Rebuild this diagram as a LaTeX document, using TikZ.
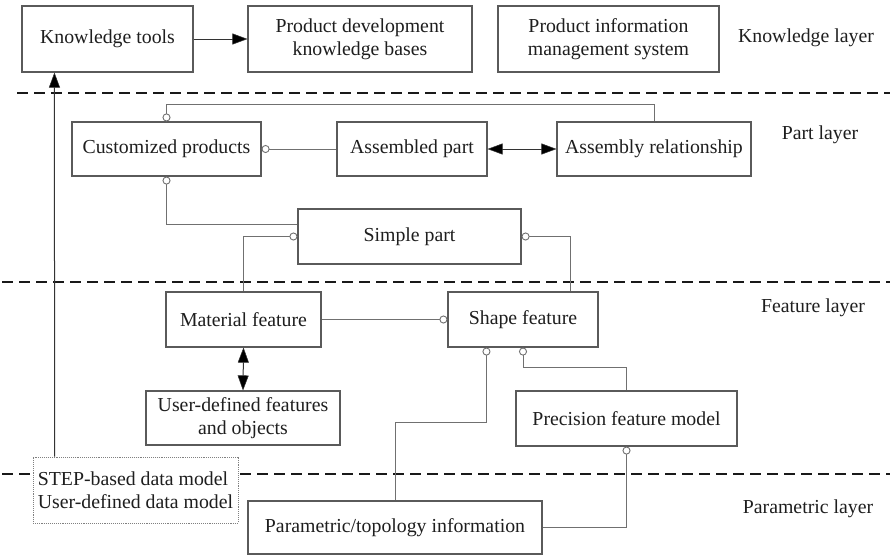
\documentclass[tikz,border=0pt]{standalone}
\usepackage{fontspec}
\setmainfont{Liberation Serif}
\usetikzlibrary{arrows.meta,calc}

\definecolor{boxline}{HTML}{5A5A5A}
\definecolor{connline}{HTML}{707070}
\definecolor{txt}{HTML}{1E1E1E}

\tikzset{
  box/.style={draw=boxline, line width=1.1pt, fill=white, rectangle,
              inner sep=0pt, align=center, text=txt,
              font=\fontsize{19.8pt}{23pt}\selectfont},
  stepbox/.style={box, draw=gray, densely dotted, line width=0.9pt, align=left},
  layerlabel/.style={text=txt, font=\fontsize{19.8pt}{23pt}\selectfont},
  layerline/.style={black!90, line width=2.4pt, dash pattern=on 11pt off 6pt},
  conn/.style={draw=connline, line width=0.9pt},
  oc/.style={conn, -{Circle[open, length=8pt, width=8pt, fill=white]}},
  tip/.style={},
  arr/.style={draw=black!80, line width=1pt,
              -{Triangle[length=15pt, width=11pt, fill=black, line width=0.5pt]}},
  darr/.style={draw=black!80, line width=1pt,
               {Triangle[length=15pt, width=11pt, fill=black, line width=0.5pt]}-{Triangle[length=15pt, width=11pt, fill=black, line width=0.5pt]}}
}

\begin{document}
\begin{tikzpicture}[x=1pt, y=-1pt]
\useasboundingbox (0,0) rectangle (890,555);

% layer separators
\draw[layerline] (17,93) -- (890,93);
\draw[layerline] (2,282) -- (890,282);
\draw[layerline] (2,474) -- (890,474);

% layer names
\node[layerlabel] (lk) at (806,38) {Knowledge layer};
\node[layerlabel] (lp) at (820,135) {Part layer};
\node[layerlabel] (lf) at (813,308) {Feature layer};
\node[layerlabel] (lm) at (808,509) {Parametric layer};

% knowledge layer
\node[box, minimum width=171pt, minimum height=66pt] (kt) at (107.5,39) {Knowledge tools};
\node[box, minimum width=224pt, minimum height=66pt] (pdkb) at (360,39) {Product development\\knowledge bases};
\node[box, minimum width=221pt, minimum height=66pt] (pims) at (608.5,39) {Product information\\management system};

% part layer
\node[box, minimum width=189pt, minimum height=54pt] (cp) at (166.5,149) {Customized products};
\node[box, minimum width=150pt, minimum height=54pt] (ap) at (412,149) {Assembled part};
\node[box, minimum width=194pt, minimum height=54pt] (ar) at (654,149) {Assembly relationship};
\node[box, minimum width=223pt, minimum height=55pt] (sp) at (409.5,236.5) {Simple part};

% feature layer
\node[box, minimum width=155pt, minimum height=55pt] (mf) at (243.5,319.5) {Material feature};
\node[box, minimum width=150pt, minimum height=55pt] (sf) at (523,319.5) {Shape feature};
\node[box, minimum width=194pt, minimum height=54pt] (ud) at (243,418) {User-defined features\\and objects};
\node[box, minimum width=221pt, minimum height=55pt] (pf) at (626.5,418.5) {Precision feature model};

% parametric layer
\node[box, minimum width=294pt, minimum height=53pt] (pt) at (395,527.5) {Parametric/topology information};
\node[stepbox, minimum width=205pt, minimum height=66pt] (step) at (135.5,490)
  {STEP-based data model\\User-defined data model};

% connectors
\draw[arr] ($(step.north west)+(22,0)$) -- ($(kt.south west)+(33,0)$);
\draw[arr] (kt.east) -- (pdkb.west);

\draw[oc] (ar.north) -- ++(0,-17) -| (cp.north);
\draw[oc] (ap.west) -- (cp.east);
\draw[darr] (ap.east) -- (ar.west);
\draw[oc] ($(sp.north west)+(0,16)$) -| (cp.south);
\draw[oc] (mf.north) |- (sp.west);
\draw[oc] ($(sf.north east)+(-28,0)$) |- (sp.east);

\draw[oc] (mf.east) -- (sf.west);
\draw[darr] (mf.south) -- (ud.north);
\draw[oc] ($(pt.north west)+(148,0)$) -- ++(0,-78) -| ($(sf.south west)+(39,0)$);
\draw[oc] (pf.north) -- ++(0,-23) -| (sf.south);
\draw[oc] (pt.east) -| (pf.south);
\end{tikzpicture}
\end{document}
